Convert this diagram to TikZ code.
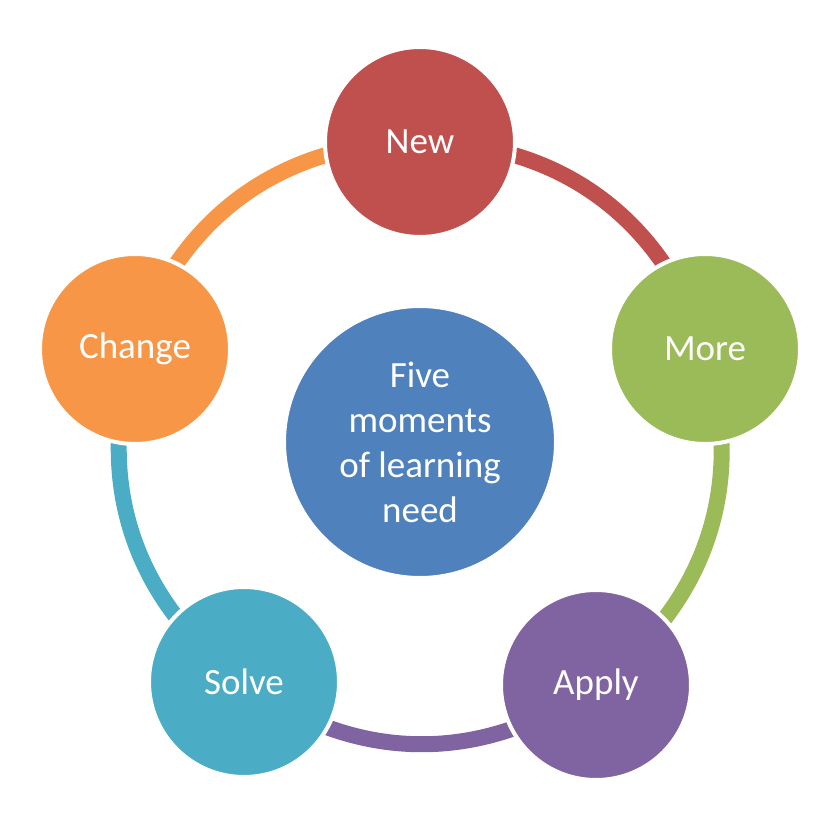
\documentclass[tikz,border=0pt]{standalone}
\usepackage{fontspec}
\setmainfont{Carlito}
\usetikzlibrary{backgrounds}
\definecolor{cred}{HTML}{C0504D}
\definecolor{cgreen}{HTML}{9BBB59}
\definecolor{cpurple}{HTML}{8064A2}
\definecolor{cteal}{HTML}{4BACC6}
\definecolor{corange}{HTML}{F79646}
\definecolor{cblue}{HTML}{4F81BD}
\begin{document}
\begin{tikzpicture}[x=1pt,y=1pt,
  ball/.style={circle,draw=white,line width=4pt,minimum size=190pt,inner sep=0pt,text=white,font=\fontsize{37}{45}\selectfont},
  link/.style={line width=16pt}]
\useasboundingbox (0,0) rectangle (840,822);
\node[ball,fill=cblue,minimum size=272pt,align=center] (c) at (420,380) {Five\\moments\\of learning\\need};
\node[ball,fill=cred] (new) at (420,680) {New};
\node[ball,fill=cgreen] (more) at (705,473) {More};
\node[ball,fill=cpurple] (apply) at (596,137) {Apply};
\node[ball,fill=cteal] (solve) at (244,140) {Solve};
\node[ball,fill=corange] (change) at (135,473) {Change};
\begin{pgfonlayer}{background}
\draw[link,cred] (new.center) to[bend left=36] (more.center);
\draw[link,cgreen] (more.center) to[bend left=36] (apply.center);
\draw[link,cpurple] (apply.center) to[bend left=36] (solve.center);
\draw[link,cteal] (solve.center) to[bend left=36] (change.center);
\draw[link,corange] (change.center) to[bend left=36] (new.center);
\end{pgfonlayer}
\end{tikzpicture}
\end{document}
